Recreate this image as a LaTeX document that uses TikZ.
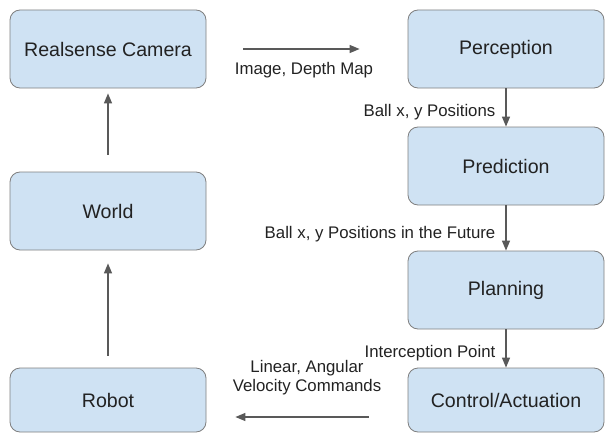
\documentclass[tikz,border=0pt]{standalone}
\usepackage{fontspec}
\setmainfont{Liberation Sans}
\usetikzlibrary{arrows.meta,positioning}
\definecolor{boxfill}{HTML}{CFE2F3}
\definecolor{boxline}{HTML}{7F7F7F}
\definecolor{flowline}{HTML}{595959}
\definecolor{txt}{HTML}{222222}
\tikzset{
  box/.style={draw=boxline, fill=boxfill, rounded corners=10pt, line width=0.8pt,
    minimum width=196pt, minimum height=78pt, text=txt,
    font=\fontsize{19.6}{23}\selectfont},
  flow/.style={draw=flowline, line width=1.3pt, -{Triangle[length=10pt,width=8pt]}},
  lbl/.style={text=txt, inner sep=0pt, font=\fontsize{16.8}{19.5}\selectfont}
}
\begin{document}
\begin{tikzpicture}[x=1pt,y=-1pt]
\useasboundingbox (0,0) rectangle (613,444);

% left column
\node[box] (camera) at (108,49) {Realsense Camera};
\node[box] (world) at (108,211) {World};
\node[box, minimum height=64pt] (robot) at (108,400) {Robot};

% right column
\node[box] (perception) at (506,49) {Perception};
\node[box] (prediction) at (506,166) {Prediction};
\node[box] (planning) at (506,290) {Planning};
\node[box, minimum height=64pt] (control) at (506,400) {Control/Actuation};

% data flow
\draw[flow, shorten <=37pt, shorten >=48pt] (camera) -- (perception)
  node[lbl, midway, below=13pt, xshift=-3pt] {Image, Depth Map};
\draw[flow] (perception) -- (prediction)
  node[lbl, pos=.62, left=10pt] {Ball x, y Positions};
\draw[flow] (prediction) -- (planning)
  node[lbl, pos=.64, left=10pt] {Ball x, y Positions in the Future};
\draw[flow] (planning) -- (control)
  node[lbl, pos=.62, left=10pt] {Interception Point};
\draw[flow, shorten <=39pt, shorten >=29pt] ([yshift=-17pt]control.west) -- ([yshift=-17pt]robot.east)
  node[lbl, midway, above=21pt, align=center] {Linear, Angular\\Velocity Commands};
\draw[flow, shorten <=12pt, shorten >=13pt] (robot) -- (world);
\draw[flow, shorten <=17pt, shorten >=5pt] (world) -- (camera);

\end{tikzpicture}
\end{document}
